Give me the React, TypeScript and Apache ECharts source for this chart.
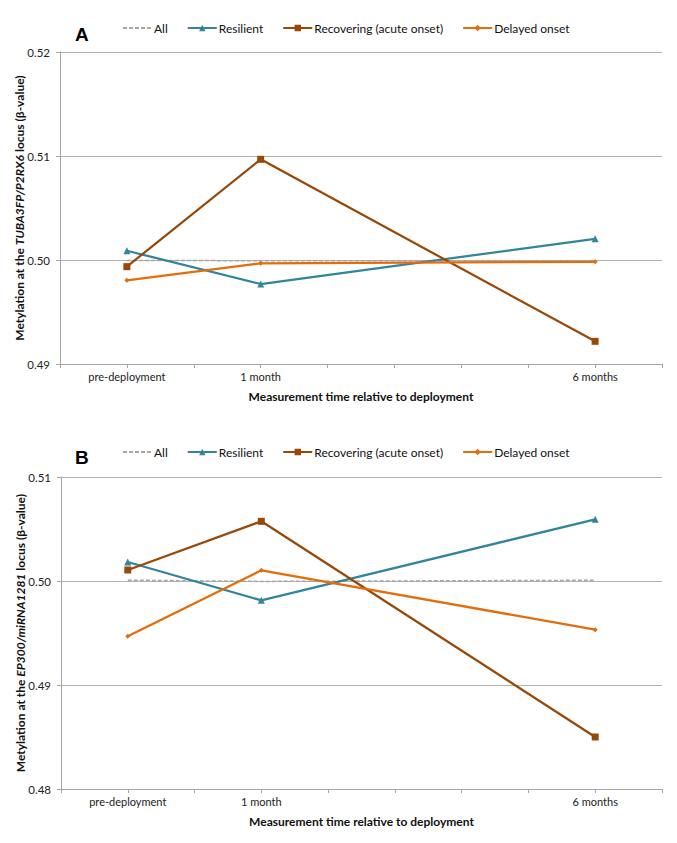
import React, { useEffect, useRef } from "react";
import * as echarts from "echarts";

const timeLabels = ["pre-deployment", "1 month", "6 months"];
const timeSlots = [1, 3, 8];
const seriesNames = ["All", "Resilient", "Recovering (acute onset)", "Delayed onset"];

const aAll = [0.49996, 0.49993, 0.49994];
const aResilient = [0.50089, 0.49769, 0.50204];
const aRecovering = [0.49936, 0.50968, 0.49218];
const aDelayed = [0.49805, 0.49968, 0.49983];

const bAll = [0.50008, 0.49996, 0.50007];
const bResilient = [0.50183, 0.49814, 0.50593];
const bRecovering = [0.50106, 0.50574, 0.485];
const bDelayed = [0.49468, 0.50103, 0.49532];

const yTicksA = [0.49, 0.52];
const yTicksB = [0.48, 0.51];

const FONT = "Lato, 'Noto Sans', sans-serif";
const colors = ["#a6a6a6", "#31859c", "#984807", "#e46c0a"];
const symbols = ["none", "triangle", "rect", "diamond"];
const symbolSizes = [0, 7, 7, 5];

function buildSeries(values: number[][], idx: number) {
  return values.map((vals, i) => ({
    name: seriesNames[i],
    type: "line",
    xAxisIndex: idx,
    yAxisIndex: idx,
    data: vals.map((v, j) => [timeSlots[j], v]),
    symbol: symbols[i],
    symbolSize: symbolSizes[i],
    showSymbol: i !== 0,
    z: i === 0 ? 1 : 3 + i,
    lineStyle: {
      color: colors[i],
      width: i === 0 ? 1.5 : 2.25,
      type: i === 0 ? [4, 2] : "solid",
    },
    itemStyle: { color: colors[i] },
    emphasis: { disabled: true },
  }));
}

function xAxis(grid: number) {
  return {
    type: "value",
    gridIndex: grid,
    min: 0,
    max: 9,
    interval: 1,
    axisLine: { show: true, onZero: false, lineStyle: { color: "#a6a6a6", width: 1 } },
    axisTick: { show: true, length: 4, lineStyle: { color: "#a6a6a6" } },
    splitLine: { show: false },
    axisLabel: {
      fontFamily: FONT,
      fontSize: 11,
      color: "#222",
      margin: 7,
      formatter: (v: number) => {
        const k = timeSlots.indexOf(v);
        return k >= 0 ? timeLabels[k] : "";
      },
    },
    name: "Measurement time relative to deployment",
    nameLocation: "middle",
    nameGap: 26,
    nameMoveOverlap: false,
    nameTextStyle: { fontFamily: FONT, fontSize: 12, fontWeight: "bold", color: "#111" },
  };
}

function yAxis(grid: number, ticks: number[], gene: string) {
  return {
    type: "value",
    gridIndex: grid,
    min: ticks[0],
    max: ticks[1],
    interval: 0.01,
    axisLine: { show: true, onZero: false, lineStyle: { color: "#a6a6a6", width: 1 } },
    axisTick: { show: true, length: 4, lineStyle: { color: "#a6a6a6" } },
    splitLine: { show: true, lineStyle: { color: "#b3b3b3", width: 1 } },
    axisLabel: {
      fontFamily: FONT,
      fontSize: 11.5,
      color: "#222",
      margin: 10,
      formatter: (v: number) => v.toFixed(2),
    },
    name: `{b|Metylation at the }{i|${gene}}{b| locus (β-value)}`,
    nameLocation: "middle",
    nameGap: 35,
    nameMoveOverlap: false,
    nameTextStyle: {
      rich: {
        b: { fontFamily: FONT, fontSize: 12, fontWeight: "bold", color: "#111" },
        i: { fontFamily: FONT, fontSize: 12, fontWeight: "bold", fontStyle: "italic", color: "#111" },
      },
    },
  };
}

function legend(top: number) {
  return {
    left: 122,
    top,
    padding: 0,
    itemWidth: 29,
    itemHeight: 8,
    itemGap: 19,
    selectedMode: false,
    data: seriesNames.map((n, i) => (i === 0 ? { name: n, itemStyle: { opacity: 0 } } : n)),
    textStyle: { fontFamily: FONT, fontSize: 12, color: "#111", padding: [0, 0, 0, -3] },
  };
}

export default function App() {
  const ref = useRef<HTMLDivElement>(null);
  useEffect(() => {
    if (!ref.current) return;
    const chart = echarts.init(ref.current, undefined, { renderer: "svg" });
    chart.setOption({
      animation: false,
      backgroundColor: "#ffffff",
      grid: [
        { left: 60, right: 15, top: 52, height: 312 },
        { left: 61, right: 15, top: 477, height: 312 },
      ],
      xAxis: [xAxis(0), xAxis(1)],
      yAxis: [yAxis(0, yTicksA, "TUBA3FP/P2RX6"), yAxis(1, yTicksB, "EP300/miRNA1281")],
      legend: [legend(22), legend(446)],
      graphic: [
        {
          type: "text",
          left: 75,
          top: 25,
          style: { text: "A", font: "bold 19px 'Liberation Sans', Arial, sans-serif", fill: "#000" },
        },
        {
          type: "text",
          left: 75,
          top: 448,
          style: { text: "B", font: "bold 19px 'Liberation Sans', Arial, sans-serif", fill: "#000" },
        },
      ],
      series: [
        ...buildSeries([aAll, aResilient, aRecovering, aDelayed], 0),
        ...buildSeries([bAll, bResilient, bRecovering, bDelayed], 1),
      ],
    });
    return () => chart.dispose();
  }, []);
  return (
    <div
      ref={ref}
      style={{ position: "absolute", left: 0, top: 0, width: 677, height: 843, background: "#fff" }}
    />
  );
}
